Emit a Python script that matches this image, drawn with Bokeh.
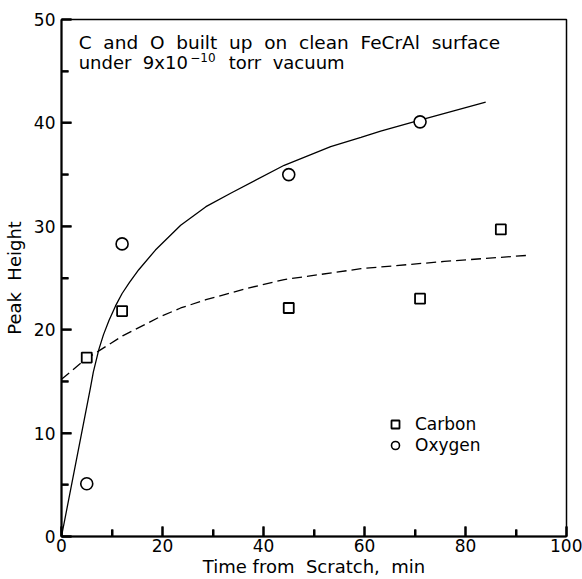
from bokeh.plotting import figure
from bokeh.models import Label, Legend, LegendItem, FixedTicker, Range1d
from bokeh.embed import file_html
from bokeh.resources import INLINE

# measured points
carbon_t = [5, 12, 45, 71, 87]
carbon_h = [17.3, 21.8, 22.1, 23.0, 29.7]
oxygen_t = [5, 12, 45, 71]
oxygen_h = [5.1, 28.3, 35.0, 40.1]

# oxygen trend curve (solid)
oxy_curve_t = [0, 5.7, 6.3, 7.4, 8.3, 9.4, 10.7, 12.0, 13.5, 15.3, 18.6, 23.6, 28.6, 33.5, 44.1, 53.3, 59.3, 63.2, 70.8, 84.0]
oxy_curve_h = [0, 14.3, 15.9, 18.1, 19.5, 20.9, 22.3, 23.5, 24.6, 25.8, 27.7, 30.1, 31.9, 33.2, 35.9, 37.7, 38.6, 39.2, 40.25, 42.0]

# carbon trend curve (dashed)
carb_curve_t = [0, 4.75, 7.4, 12.1, 19.3, 23.6, 28.6, 36.8, 44.1, 59.3, 75.8, 92.6]
carb_curve_h = [15.2, 17.15, 17.95, 19.4, 21.2, 22.1, 22.9, 24.0, 24.85, 25.9, 26.6, 27.2]

x_major = [0, 20, 40, 60, 80, 100]
x_minor = [10, 30, 50, 70, 90]
y_major = [0, 10, 20, 30, 40, 50]
y_minor = [5, 15, 25, 35, 45]

FONT = "DejaVu Sans"
SP = " \u00a0"

W, H = 582, 579
BL, BR, BT, BB = 61, 16, 19, 41
X0, X1, Y0, Y1 = 0, 100, 0, 50

p = figure(width=W, height=H, output_backend="svg", toolbar_location=None,
           x_range=Range1d(X0, X1), y_range=Range1d(Y0, Y1),
           min_border_left=BL, min_border_right=BR, min_border_top=BT, min_border_bottom=BB)
p.grid.visible = False
p.outline_line_color = "black"
p.outline_line_width = 1.5
p.background_fill_color = "white"
p.border_fill_color = "white"

for ax, maj, mnr in ((p.xaxis[0], x_major, x_minor), (p.yaxis[0], y_major, y_minor)):
    ax.ticker = FixedTicker(ticks=maj, minor_ticks=mnr)
    ax.axis_line_width = 2
    ax.major_tick_in = 10
    ax.major_tick_out = 0
    ax.minor_tick_in = 7
    ax.minor_tick_out = 0
    ax.major_tick_line_width = 2
    ax.minor_tick_line_width = 2
    ax.major_tick_line_color = "black"
    ax.minor_tick_line_color = "black"
    ax.major_label_text_font = FONT
    ax.major_label_text_font_size = "17px"
    ax.major_label_text_color = "black"
    ax.axis_label_text_font = FONT
    ax.axis_label_text_font_size = "18px"
    ax.axis_label_text_font_style = "normal"
    ax.axis_label_text_color = "black"

p.xaxis.axis_label = "Time from" + SP + "Scratch," + SP + "min"
p.yaxis.axis_label = "Peak" + SP + "Height"
p.xaxis.major_label_standoff = 2
p.xaxis.axis_label_standoff = 1
p.yaxis.major_label_standoff = 6
p.yaxis.axis_label_standoff = 6

# inward tick marks as short segments (length in px converted to data units)
fw, fh = W - BL - BR, H - BT - BB
ux, uy = (X1 - X0) / fw, (Y1 - Y0) / fh
MAJ, MIN = 10, 7
tick_style = dict(line_color="black", line_width=2, level="overlay")
p.segment(x0=x_major, y0=[Y0] * len(x_major), x1=x_major, y1=[Y0 + MAJ * uy] * len(x_major), **tick_style)
p.segment(x0=x_minor, y0=[Y0] * len(x_minor), x1=x_minor, y1=[Y0 + MIN * uy] * len(x_minor), **tick_style)
p.segment(x0=[X0] * len(y_major), y0=y_major, x1=[X0 + MAJ * ux] * len(y_major), y1=y_major, **tick_style)
p.segment(x0=[X0] * len(y_minor), y0=y_minor, x1=[X0 + MIN * ux] * len(y_minor), y1=y_minor, **tick_style)

p.line(oxy_curve_t, oxy_curve_h, line_color="black", line_width=1.3)
p.line(carb_curve_t, carb_curve_h, line_color="black", line_width=1.3, line_dash="10 5")

r_c = p.scatter(carbon_t, carbon_h, marker="square", size=10, fill_color="white",
                line_color="black", line_width=1.8)
r_o = p.scatter(oxygen_t, oxygen_h, marker="circle", size=12, fill_color="white",
                line_color="black", line_width=1.6)

legend = Legend(items=[LegendItem(label="Carbon", renderers=[r_c]),
                       LegendItem(label="Oxygen", renderers=[r_o])],
                location=(324, 81), orientation="vertical",
                padding=0, margin=0, spacing=1,
                glyph_width=20, glyph_height=20, label_height=20, label_standoff=10,
                border_line_color=None, background_fill_alpha=0,
                label_text_font=FONT, label_text_font_size="17px",
                label_text_color="black")
p.add_layout(legend, "center")

ann = dict(text_font=FONT, text_color="black", text_baseline="alphabetic")
p.add_layout(Label(x=3.4, y=47.75,
                   text="C and O built up on clean FeCrAl surface".replace(" ", SP),
                   text_font_size="18.5px", **ann))
p.add_layout(Label(x=3.4, y=45.85, text="under" + SP + "9x10", text_font_size="18px", **ann))
p.add_layout(Label(x=25.5, y=46.35, text="\u221210", text_font_size="12px", **ann))
p.add_layout(Label(x=33.1, y=45.85, text="torr" + SP + "vacuum", text_font_size="18px", **ann))

open("out.html", "w").write(file_html(p, INLINE))
